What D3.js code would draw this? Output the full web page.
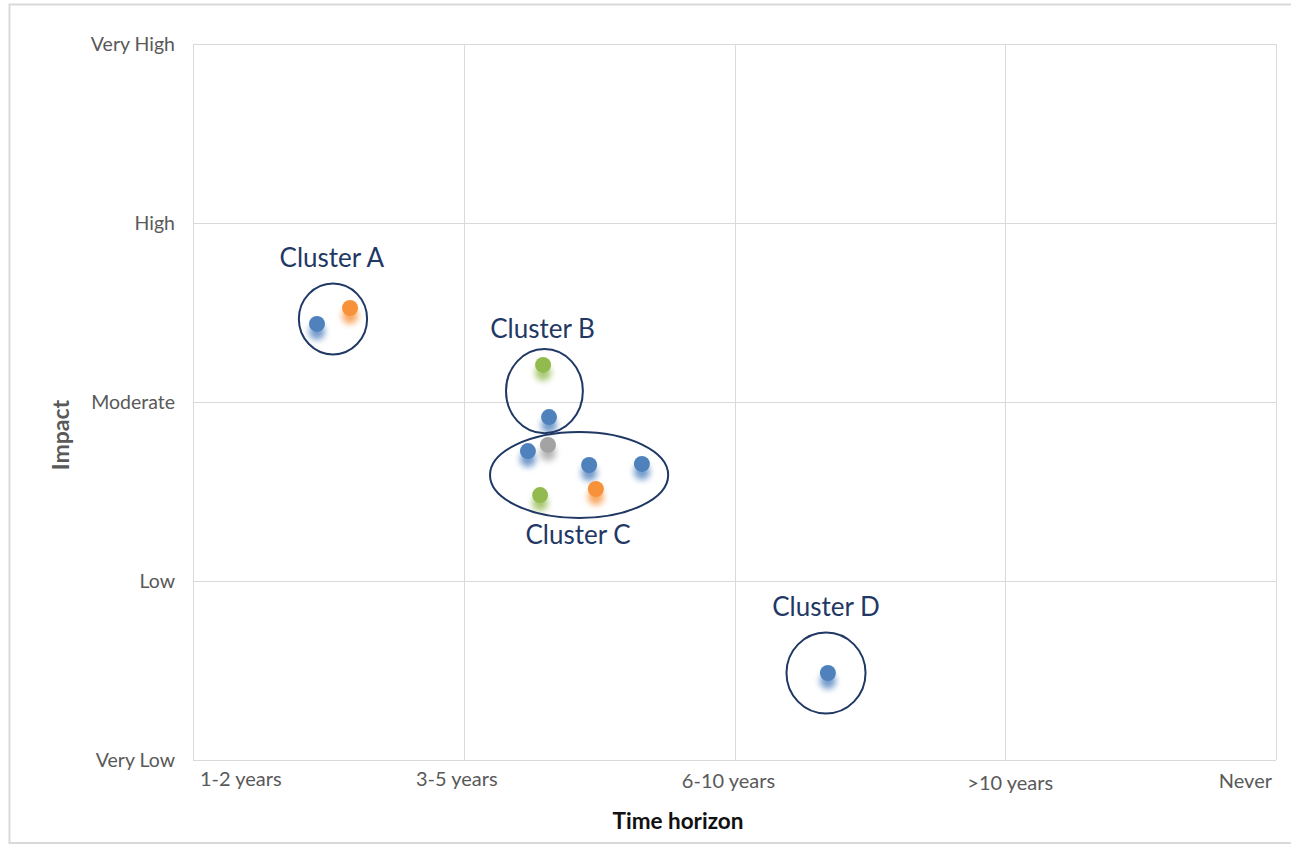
<!DOCTYPE html>
<html>
<head>
<meta charset="utf-8">
<script src="https://cdn.jsdelivr.net/npm/d3@7"></script>
<style>
  html, body { margin: 0; padding: 0; background: #fff; }
  svg { display: block; }
</style>
</head>
<body>
<svg id="chart" width="1291" height="845"></svg>
<script>
// ---- data ----
const xCategories = ["1-2 years", "3-5 years", "6-10 years", ">10 years", "Never"];
const yCategories = ["Very Low", "Low", "Moderate", "High", "Very High"];

// points: time-horizon value (0..4), impact value (0..4), series colour key
const pointX      = [0.458, 0.580, 1.293, 1.315, 1.311, 1.237, 1.463, 1.658, 1.282, 1.488, 2.345];
const pointY      = [2.436, 2.525, 2.207, 1.916, 1.760, 1.726, 1.648, 1.654, 1.480, 1.514, 0.486];
const pointSeries = ["blue", "orange", "green", "blue", "gray", "blue", "blue", "blue", "green", "orange", "blue"];

// cluster annotations (in data units)
const clusterNames  = ["Cluster A", "Cluster B", "Cluster C", "Cluster D"];
const clusterCX     = [0.517, 1.298, 1.426, 2.338];
const clusterCY     = [2.464, 2.061, 1.592, 0.486];
const clusterRX     = [0.126, 0.142, 0.329, 0.146];
const clusterRY     = [0.198, 0.235, 0.240, 0.226];
const clusterLabelX = [0.513, 1.291, 1.422, 2.338];
const clusterLabelY = [2.754, 2.358, 1.207, 0.804];

// ---- styling ----
const colors = { blue: "#4F81BD", orange: "#F7923A", green: "#93BA50", gray: "#A3A3A3" };
const navy = "#1F3864";
const font = "Lato, 'Open Sans', sans-serif";

const svg = d3.select("#chart");
const margin = { left: 193, top: 44, right: 1276, bottom: 760 };

// outer frame
svg.append("rect")
  .attr("x", 9.5).attr("y", 4.5).attr("width", 1300).attr("height", 838.5)
  .attr("fill", "none").attr("stroke", "#d9d9d9").attr("stroke-width", 2);

const x = d3.scaleLinear().domain([0, 4]).range([margin.left, margin.right]);
const y = d3.scaleLinear().domain([0, 4]).range([margin.bottom, margin.top]);

// gridlines
const grid = svg.append("g");
grid.selectAll(".vg").data(d3.range(xCategories.length)).join("line")
  .attr("x1", d => Math.round(x(d)) + 0.5).attr("x2", d => Math.round(x(d)) + 0.5)
  .attr("y1", margin.top).attr("y2", margin.bottom)
  .attr("stroke", "#d9d9d9").attr("stroke-width", 1);
grid.selectAll(".hg").data(d3.range(yCategories.length)).join("line")
  .attr("y1", d => Math.round(y(d)) + 0.5).attr("y2", d => Math.round(y(d)) + 0.5)
  .attr("x1", margin.left).attr("x2", margin.right)
  .attr("stroke", "#d9d9d9").attr("stroke-width", 1);

// y tick labels
svg.append("g").selectAll("text").data(yCategories).join("text")
  .attr("x", 175).attr("y", (d, i) => y(i) + 7)
  .attr("text-anchor", "end")
  .attr("font-family", font).attr("font-size", 19.5).attr("fill", "#595959")
  .text(d => d);

// x tick labels (Excel-style placement)
const xLabelAnchor = ["start", "middle", "middle", "middle", "end"];
const xLabelShift  = [7, -7, -6, 5, -4];
const xLabelBase   = [786, 786, 788, 790, 788];
svg.append("g").selectAll("text").data(xCategories).join("text")
  .attr("x", (d, i) => x(i) + xLabelShift[i])
  .attr("y", (d, i) => xLabelBase[i])
  .attr("text-anchor", (d, i) => xLabelAnchor[i])
  .attr("font-family", font).attr("font-size", 20).attr("fill", "#595959")
  .text(d => d);

// axis titles
svg.append("text")
  .attr("transform", "translate(69,435) rotate(-90)")
  .attr("text-anchor", "middle")
  .attr("font-family", font).attr("font-size", 23).attr("font-weight", "bold")
  .attr("fill", "#595959").text("Impact");
svg.append("text")
  .attr("x", 678).attr("y", 829)
  .attr("text-anchor", "middle")
  .attr("font-family", font).attr("font-size", 22.5).attr("font-weight", "bold")
  .attr("fill", "#111").text("Time horizon");

// soft shadow filter for points
const defs = svg.append("defs");
const f = defs.append("filter").attr("id", "shadow")
  .attr("x", "-100%").attr("y", "-100%").attr("width", "300%").attr("height", "300%");
f.append("feOffset").attr("in", "SourceGraphic").attr("dx", 0).attr("dy", 8).attr("result", "off");
f.append("feGaussianBlur").attr("in", "off").attr("stdDeviation", 3).attr("result", "blur");
f.append("feComponentTransfer").attr("in", "blur").attr("result", "fade")
  .append("feFuncA").attr("type", "linear").attr("slope", 0.8);
const m = f.append("feMerge");
m.append("feMergeNode").attr("in", "fade");
m.append("feMergeNode").attr("in", "SourceGraphic");

// points
const pts = pointX.map((v, i) => ({ x: v, y: pointY[i], s: pointSeries[i] }));
svg.append("g").selectAll("circle").data(pts).join("circle")
  .attr("cx", d => x(d.x)).attr("cy", d => y(d.y)).attr("r", 8)
  .attr("fill", d => colors[d.s])
  .attr("filter", "url(#shadow)");

// cluster ellipses
const clusters = clusterNames.map((n, i) => ({
  n, cx: clusterCX[i], cy: clusterCY[i], rx: clusterRX[i], ry: clusterRY[i],
  lx: clusterLabelX[i], ly: clusterLabelY[i]
}));
svg.append("g").selectAll("ellipse").data(clusters).join("ellipse")
  .attr("cx", d => x(d.cx)).attr("cy", d => y(d.cy))
  .attr("rx", d => x(d.rx) - x(0)).attr("ry", d => y(0) - y(d.ry))
  .attr("fill", "none").attr("stroke", navy).attr("stroke-width", 2);

svg.append("g").selectAll("text").data(clusters).join("text")
  .attr("x", d => x(d.lx)).attr("y", d => y(d.ly))
  .attr("text-anchor", "middle")
  .attr("font-family", font).attr("font-size", 26).attr("fill", navy)
  .text(d => d.n);
</script>
</body>
</html>
